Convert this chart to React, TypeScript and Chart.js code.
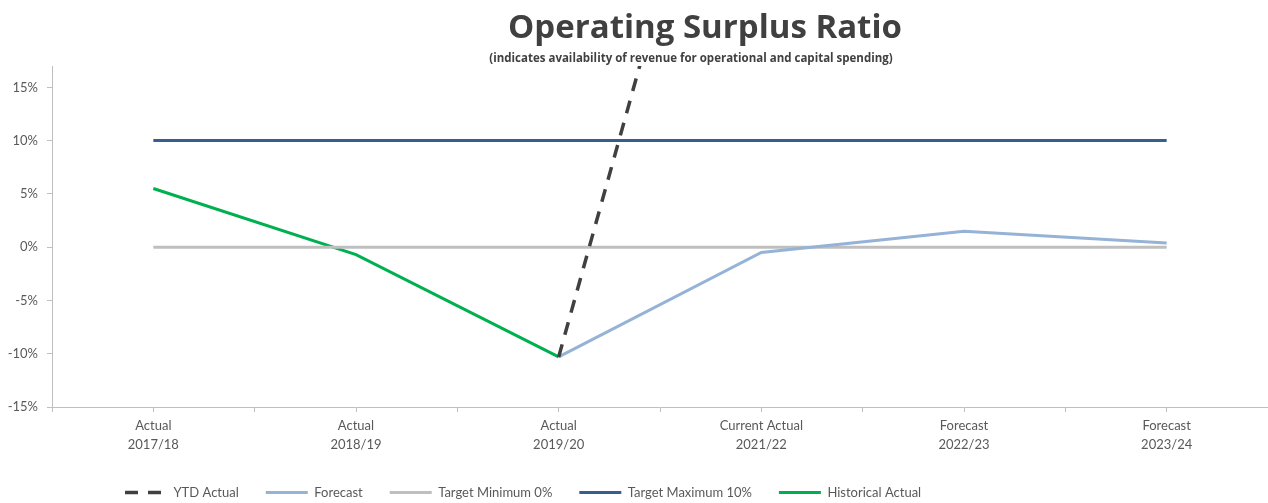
import React, { useEffect, useRef } from "react";
import { Chart, registerables } from "chart.js";

Chart.register(...registerables);

const TITLE = "Operating Surplus Ratio";
const SUBTITLE = "(indicates availability of revenue for operational and capital spending)";

const categories: string[][] = [
  ["Actual", "2017/18"],
  ["Actual", "2018/19"],
  ["Actual", "2019/20"],
  ["Current Actual", "2021/22"],
  ["Forecast", "2022/23"],
  ["Forecast", "2023/24"],
];

const ytdActual: (number | null)[] = [null, null, -10.3, 58, null, null];
const forecast: (number | null)[] = [null, null, -10.3, -0.5, 1.5, 0.4];
const targetMinimum: (number | null)[] = [0, 0, 0, 0, 0, 0];
const targetMaximum: (number | null)[] = [10, 10, 10, 10, 10, 10];
const historicalActual: (number | null)[] = [5.5, -0.7, -10.3, null, null, null];

const yTickValues = [-15, -10, -5, 0, 5, 10, 15];
const Y_MIN = -15;
const Y_MAX = 17;

const toPoints = (arr: (number | null)[]) => arr.map((v, i) => ({ x: i, y: v }));

const FONT = "Lato";
const TITLE_FONT = "'Open Sans'";
const TEXT_COLOR = "#595959";
const AXIS_COLOR = "#BFBFBF";

const tweakPlugin = {
  id: "tweaks",
  afterLayout(chart: any) {
    const lg = chart.legend;
    if (lg) {
      const dx = 98 - lg.left;
      lg.left += dx;
      lg.right += dx;
      lg.top += 6;
      lg.bottom += 6;
    }
  },
  afterDraw(chart: any) {
    const ctx = chart.ctx;
    ctx.save();
    ctx.fillStyle = "#404040";
    ctx.textAlign = "center";
    ctx.textBaseline = "alphabetic";
    ctx.font = `bold 33px ${TITLE_FONT}`;
    ctx.fillText(TITLE, 705, 38);
    ctx.font = `bold 11.5px ${TITLE_FONT}`;
    ctx.fillText(SUBTITLE, 691, 62);
    ctx.restore();
  },
};

export default function App() {
  const ref = useRef<HTMLCanvasElement | null>(null);

  useEffect(() => {
    document.body.style.margin = "0";
    if (!ref.current) return;
    const chart = new Chart(ref.current, {
      type: "line",
      data: {
        datasets: [
          {
            label: "YTD Actual",
            data: toPoints(ytdActual),
            borderColor: "#404040",
            backgroundColor: "#404040",
            borderWidth: 3.5,
            borderDash: [13, 10],
            pointRadius: 0,
          },
          {
            label: "Forecast",
            data: toPoints(forecast),
            borderColor: "#95B3D7",
            backgroundColor: "#95B3D7",
            borderWidth: 3,
            pointRadius: 0,
          },
          {
            label: "Target Minimum 0%",
            data: toPoints(targetMinimum),
            borderColor: "#BFBFBF",
            backgroundColor: "#BFBFBF",
            borderWidth: 3,
            pointRadius: 0,
          },
          {
            label: "Target Maximum 10%",
            data: toPoints(targetMaximum),
            borderColor: "#355F91",
            backgroundColor: "#355F91",
            borderWidth: 3,
            pointRadius: 0,
          },
          {
            label: "Historical Actual",
            data: toPoints(historicalActual),
            borderColor: "#00B050",
            backgroundColor: "#00B050",
            borderWidth: 3,
            pointRadius: 0,
          },
        ],
      },
      options: {
        responsive: false,
        animation: false,
        layout: { autoPadding: false, padding: { top: 66, left: 0, right: 0, bottom: 0 } },
        plugins: {
          title: { display: false },
          tooltip: { enabled: false },
          legend: {
            position: "bottom",
            align: "start",
            labels: {
              usePointStyle: true,
              pointStyle: "line",
              pointStyleWidth: 42,
              padding: 27,
              color: TEXT_COLOR,
              font: { family: FONT, size: 13 },
              generateLabels: (c: any) => {
                const items = Chart.defaults.plugins.legend.labels.generateLabels(c);
                return items.map((it: any) => {
                  const ds: any = c.data.datasets[it.datasetIndex];
                  return {
                    ...it,
                    pointStyle: "line",
                    lineDash: ds.borderDash || [],
                    lineWidth: ds.borderWidth,
                    strokeStyle: ds.borderColor,
                    fillStyle: ds.borderColor,
                  };
                });
              },
            },
          },
        },
        scales: {
          x: {
            type: "linear",
            min: -0.5,
            max: categories.length - 0.5,
            afterBuildTicks: (scale: any) => {
              const vals: number[] = [];
              categories.forEach((_, i) => {
                vals.push(i - 0.5, i);
              });
              vals.push(categories.length - 0.5);
              scale.ticks = vals.map((v) => ({ value: v }));
            },
            afterFit: (scale: any) => {
              scale.height = 46;
              scale.paddingLeft = 0;
              scale.paddingRight = 0;
            },
            ticks: {
              autoSkip: false,
              maxRotation: 0,
              minRotation: 0,
              padding: 4,
              color: TEXT_COLOR,
              font: { family: FONT, size: 13, lineHeight: 19 / 13 },
              callback: (value: any) =>
                Number.isInteger(value) && categories[value] ? categories[value] : "",
            },
            grid: {
              drawOnChartArea: false,
              drawTicks: true,
              tickLength: 5,
              color: AXIS_COLOR,
            },
            border: { color: AXIS_COLOR, width: 1 },
          },
          y: {
            min: Y_MIN,
            max: Y_MAX,
            afterBuildTicks: (scale: any) => {
              scale.ticks = yTickValues.map((v) => ({ value: v }));
            },
            afterFit: (scale: any) => {
              scale.width = 52;
            },
            ticks: {
              padding: 9,
              color: TEXT_COLOR,
              font: { family: FONT, size: 13 },
              callback: (value: any) => `${value}%`,
            },
            grid: {
              drawOnChartArea: false,
              drawTicks: true,
              tickLength: 5,
              color: AXIS_COLOR,
            },
            border: { color: AXIS_COLOR, width: 1 },
          },
        },
      },
      plugins: [tweakPlugin],
    });
    return () => chart.destroy();
  }, []);

  return (
    <canvas
      ref={ref}
      width={1268}
      height={503}
      style={{ display: "block", width: 1268, height: 503 }}
    />
  );
}
